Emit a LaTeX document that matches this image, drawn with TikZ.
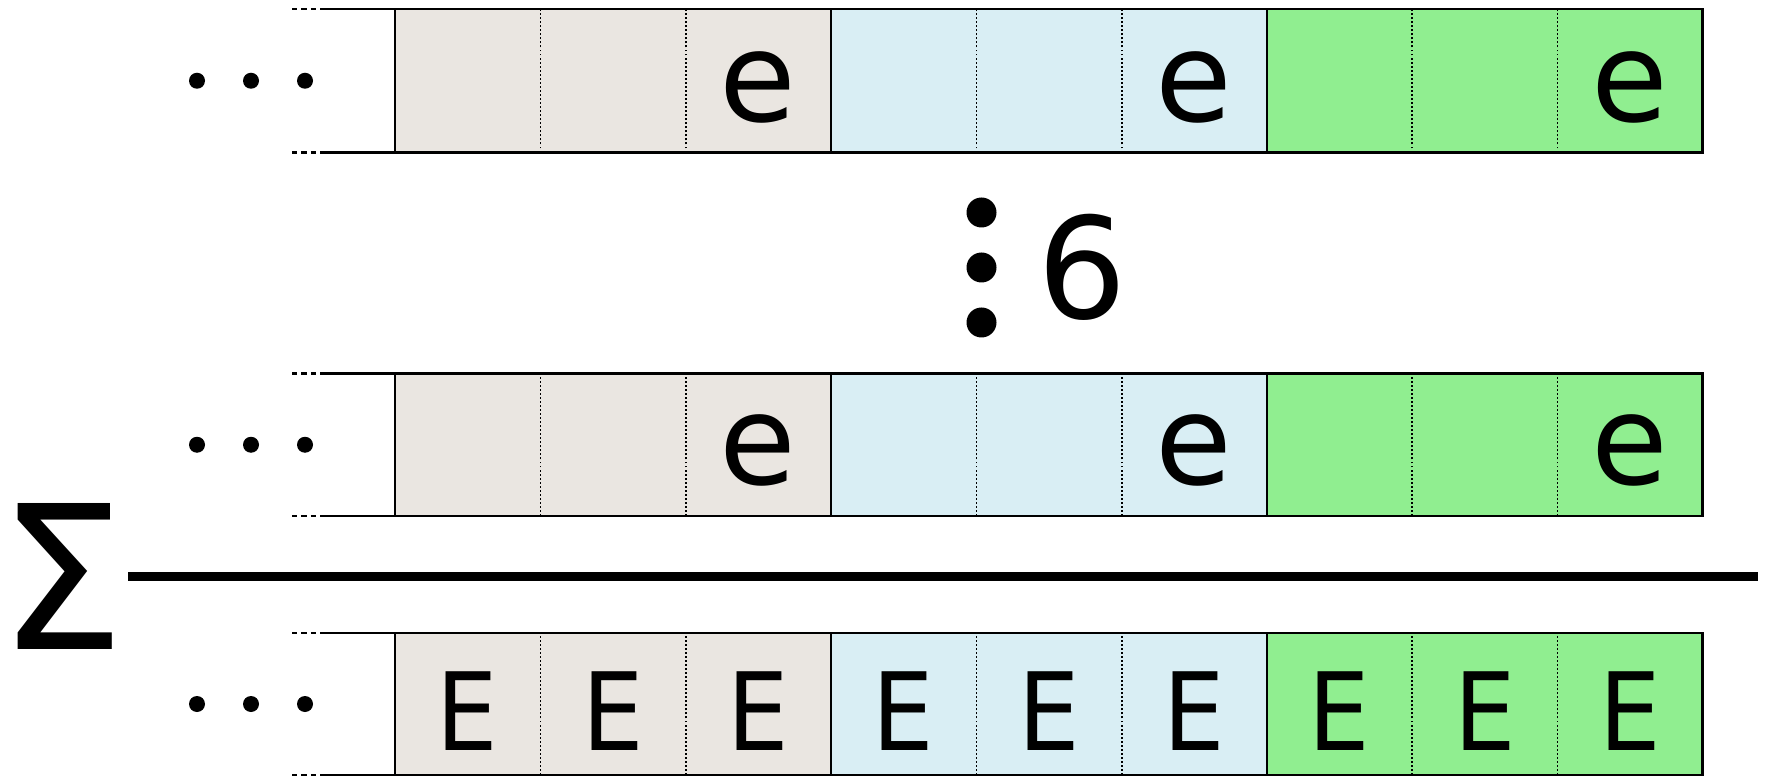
\documentclass[tikz,border=0pt]{standalone}
\usepackage{fontspec}
\setmainfont{DejaVu Sans}
\definecolor{sandbg}{HTML}{EAE6E1}
\definecolor{skybg}{HTML}{D9EEF4}
\definecolor{mintbg}{HTML}{90EE90}

\begin{document}
\begin{tikzpicture}[
  cellborder/.style={draw=black,line width=1.6pt},
  divider/.style={line width=0.8pt,dash pattern=on 1.1pt off 1.2pt},
  leadin/.style={line width=1.6pt},
  leaddash/.style={line width=1.6pt,dash pattern=on 2.85pt off 2.55pt},
  smallglyph/.style={inner sep=0pt,anchor=base,font=\fontsize{71}{80}\selectfont},
  bigglyph/.style={inner sep=0pt,anchor=base,font=\fontsize{61.5}{70}\selectfont},
]
\useasboundingbox (0,0) rectangle (35.44,15.52);

% three register rows: name / bottom edge / top edge
\foreach \r/\lo/\hi in {a/12.47/15.34, b/5.20/8.05, c/0.02/2.86} {
  \fill[sandbg] (7.90,\lo) rectangle (16.62,\hi);
  \fill[skybg] (16.62,\lo) rectangle (25.34,\hi);
  \fill[mintbg] (25.34,\lo) rectangle (34.05,\hi);
  \foreach \x in {10.81,13.72,19.53,22.44,28.24,31.15}
    \draw[divider] (\x,\lo) -- (\x,\hi);
  \draw[cellborder] (7.90,\lo) rectangle (16.62,\hi);
  \draw[cellborder] (16.62,\lo) rectangle (25.34,\hi);
  \draw[cellborder] (25.34,\lo) rectangle (34.05,\hi);
  % open left end
  \draw[leadin] (6.40,\hi) -- (7.90,\hi);
  \draw[leadin] (6.40,\lo) -- (7.90,\lo);
  \draw[leaddash] (5.84,\hi) -- (6.33,\hi);
  \draw[leaddash] (5.84,\lo) -- (6.33,\lo);
  \foreach \x in {3.94,5.02,6.10}
    \fill ({\x},{(\lo+\hi)/2}) circle (0.16);
}

% last cell of each block in the two input rows
\foreach \r/\y in {a/13.09, b/5.82}
  \foreach \k in {2,5,8}
    \node[smallglyph] (e-\r-\k) at ({7.90+2.906*(\k+0.5)},\y) {e};

% vertical ellipsis with count
\foreach \y in {11.27,10.17,9.07}
  \fill (19.63,\y) circle (0.30);
\node[inner sep=0pt,anchor=base,font=\fontsize{80}{90}\selectfont] (six) at (21.65,9.14) {6};

% sum rule
\node[inner sep=0pt,anchor=base,font=\fontsize{114}{120}\selectfont] (sigma) at (1.24,2.54) {Σ};
\coordinate (sumL) at (2.56,3.99);
\coordinate (sumR) at (35.16,3.99);
\draw[line width=0.18cm] (sumL) -- (sumR);

% result row
\foreach \k in {0,...,8}
  \node[bigglyph] (E-\k) at ({7.90+2.906*(\k+0.5)},0.506) {\scalebox{0.9}[1]{E}};
\end{tikzpicture}
\end{document}
